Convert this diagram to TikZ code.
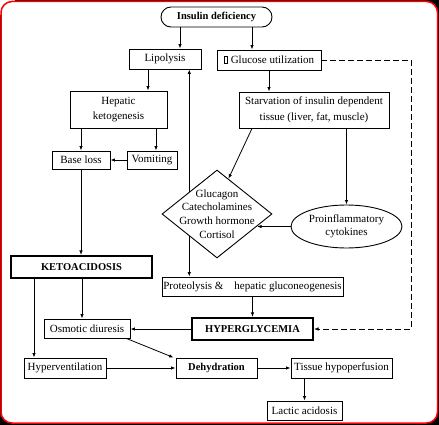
\documentclass[tikz,border=0pt]{standalone}
\usepackage{fontspec}
\setmainfont{Liberation Serif}
\usepackage{tikz}
\usetikzlibrary{arrows.meta,shapes.geometric,calc}
\newcommand{\nochar}{{\setlength{\fboxsep}{0pt}\setlength{\fboxrule}{0.8pt}\fbox{\rule{0pt}{7pt}\hspace{2.6pt}}}}

\begin{document}
\begin{tikzpicture}[x=1pt,y=-1pt,
  box/.style={draw,line width=0.9pt,inner sep=1pt,align=center,font=\fontsize{11}{14}\selectfont},
  bigbox/.style={box,line width=2.2pt,font=\bfseries\fontsize{10.5}{12}\selectfont},
  arr/.style={line width=0.8pt,-{Latex[length=4.5pt,width=3.5pt]}},
  dashline/.style={arr,dash pattern=on 6pt off 3pt}]
\fill[black] (0,0) rectangle (439,425);
\fill[white] (0,0) rectangle (15,15);
\draw[red,line width=1.5pt,fill=white,rounded corners=11pt] (1,1.5) rectangle (437.5,423);
\useasboundingbox (0,0) rectangle (439,425);

\node[box,rounded corners=10pt,minimum width=111,minimum height=20,font=\bfseries\fontsize{10.5}{12}\selectfont] (ins) at (216.5,17) {Insulin deficiency};
\node[box,minimum width=72,minimum height=20] (lip) at (165,59) {Lipolysis};
\node[box,minimum width=104,minimum height=20] (glu) at (269,60) {\nochar\ Glucose utilization};
\node[box,minimum width=97,minimum height=37,font=\fontsize{11}{15.5}\selectfont] (hep) at (118.5,109.5) {Hepatic\\ketogenesis};
\node[box,minimum width=150,minimum height=36,font=\fontsize{11}{15.5}\selectfont] (starv) at (314,110) {Starvation of insulin dependent\\tissue (liver, fat, muscle)};
\node[box,minimum width=58,minimum height=18] (base) at (81,160) {Base loss};
\node[box,minimum width=50,minimum height=18] (vom) at (152,160) {Vomiting};
\node[draw,line width=0.9pt,diamond,minimum width=110,minimum height=88,inner sep=0] (hor) at (217,214) {};
\node[align=center,font=\fontsize{11}{13.7}\selectfont] at (hor) {Glucagon\\Catecholamines\\Growth hormone\\Cortisol};
\node[box,ellipse,minimum width=111,minimum height=43,inner sep=0,font=\fontsize{11}{13.3}\selectfont] (cyt) at (346.5,226.5) {Proinflammatory\\cytokines};
\node[bigbox,minimum width=141,minimum height=22] (keto) at (81.5,267) {KETOACIDOSIS};
\node[box,minimum width=181,minimum height=19] (prot) at (252.5,286.5) {Proteolysis \&\hspace{11pt}hepatic gluconeogenesis};
\node[bigbox,minimum width=121,minimum height=22] (hyp) at (252.5,329) {HYPERGLYCEMIA};
\node[box,minimum width=86,minimum height=19] (osm) at (87,328.5) {Osmotic diuresis};
\node[box,minimum width=82,minimum height=20] (hvent) at (65,368) {Hyperventilation};
\node[box,minimum width=81,minimum height=20,font=\bfseries\fontsize{10.5}{12}\selectfont] (deh) at (216.5,368) {Dehydration};
\node[box,minimum width=101,minimum height=20] (tis) at (341.5,368) {Tissue hypoperfusion};
\node[box,minimum width=75,minimum height=19] (lac) at (304.5,410.5) {Lactic acidosis};
\coordinate (rt) at (411,0);

\draw[arr] ([xshift=15]lip.north |- ins.south) -- ([xshift=15]lip.north);
\draw[arr] ([xshift=-17]glu.north |- ins.south) -- ([xshift=-17]glu.north);
\draw[arr] ([xshift=-17]lip.south) -- ([xshift=-17]lip.south |- hep.north);
\draw[arr] (glu.south) -- (glu.south |- starv.north);
\draw[arr] (base.north |- hep.south) -- (base.north);
\draw[arr] ([xshift=4]vom.north |- hep.south) -- ([xshift=4]vom.north);
\draw[arr] (vom.west) -- (base.east);
\draw[arr] (base.south) -- (base.south |- keto.north);
\draw[arr] (hor.north west) -- (hor.north west |- lip.south);
\draw[arr] (hor.south west) -- (hor.south west |- prot.north);
\draw[arr] ([xshift=-62]starv.south) -- (hor.72);
\draw[arr] (cyt.north |- starv.south) -- (cyt.north);
\draw[arr] (cyt.west) -- (hor.-17.6 |- cyt.west);
\draw[arr] (prot.south) -- (hyp.north);
\draw[arr] (hyp.west) -- (hyp.west -| osm.east);
\draw[arr] ([xshift=-5]osm.north |- keto.south) -- ([xshift=-5]osm.north);
\draw[arr] ([xshift=-31]hvent.north |- keto.south) -- ([xshift=-31]hvent.north);
\draw[arr] ([xshift=-4]osm.south east) -- ([xshift=-2]deh.north west);
\draw[arr] (hvent.east) -- (deh.west);
\draw[arr] (deh.east) -- (tis.west);
\draw[arr] (lac.north |- tis.south) -- (lac.north);
\draw[dashline] (glu.east) -- (glu.east -| rt) -- (hyp.east -| rt) -- (hyp.east);
\end{tikzpicture}
\end{document}
